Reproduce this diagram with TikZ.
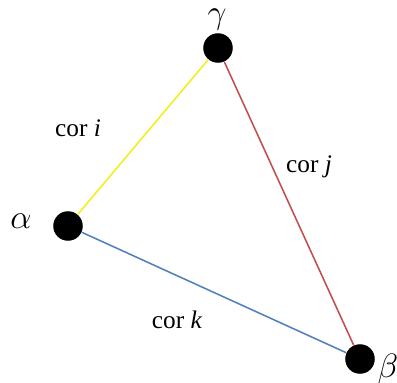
\RequirePackage{fix-cm}
\documentclass[tikz,border=0pt]{standalone}
\usepackage{fontspec}
\setmainfont{Liberation Serif}
\usetikzlibrary{positioning, calc}
\definecolor{corI}{HTML}{F2EE1A}
\definecolor{corJ}{HTML}{C0504D}
\definecolor{corK}{HTML}{4F81BD}
\tikzset{
  vertex/.style={circle, fill=black, inner sep=0pt, minimum size=21},
  vlabel/.style={font=\fontsize{24}{28}\selectfont, inner sep=0pt},
  elabel/.style={font=\fontsize{18}{21}\selectfont, inner sep=0pt},
  edge/.style={line width=1.1pt}
}

\begin{document}
\begin{tikzpicture}[x=0.025cm, y=-0.025cm]
  \useasboundingbox (0,0) rectangle (397,383);
  \node[vertex] (g) at (218,48) {};
  \node[vertex] (a) at (68,226) {};
  \node[vertex] (b) at (360,359) {};
  \node[vlabel] (lg) at (217,20) {$\gamma$};
  \node[vlabel] (la) at (21,221) {$\alpha$};
  \node[vlabel] (lb) at (388,369) {$\beta$};
  \draw[edge, corI] (a) -- (g);
  \draw[edge, corJ] (g) -- (b);
  \draw[edge, corK] (a) -- (b);
  \node[elabel] (ci) at (78,128) {cor \textit{i}};
  \node[elabel] (cj) at (309,167) {cor \textit{j}};
  \node[elabel] (ck) at (177,320) {cor \textit{k}};
\end{tikzpicture}
\end{document}
